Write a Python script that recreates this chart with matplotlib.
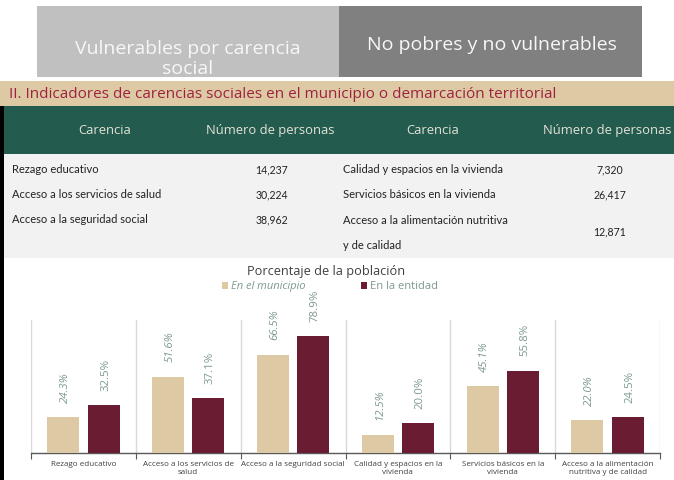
import matplotlib
matplotlib.use("Agg")
import matplotlib.pyplot as plt
from matplotlib.patches import Rectangle
import numpy as np

# ---------------- data ----------------
categories = ["Rezago educativo", "Acceso a los servicios de\nsalud",
              "Acceso a la seguridad social", "Calidad y espacios en la\nvivienda",
              "Servicios básicos en la\nvivienda", "Acceso a la alimentación\nnutritiva y de calidad"]
municipio = [24.3, 51.6, 66.5, 12.5, 45.1, 22.0]
entidad = [32.5, 37.1, 78.9, 20.0, 55.8, 24.5]

table_left = ["Rezago educativo", "Acceso a los servicios de salud", "Acceso a la seguridad social"]
table_left_n = [14237, 30224, 38962]
table_right = ["Calidad y espacios en la vivienda", "Servicios básicos en la vivienda",
               "Acceso a la alimentación nutritiva\ny de calidad"]
table_right_n = [7320, 26417, 12871]
header = ["Carencia", "Número de personas", "Carencia", "Número de personas"]
box_labels = ["Vulnerables por carencia\nsocial", "No pobres y no vulnerables"]
section_title = "II. Indicadores de carencias sociales en el municipio o demarcación territorial"
chart_title = "Porcentaje de la población"
legend_labels = ["En el municipio", "En la entidad"]

# ---------------- style ----------------
BEIGE = "#DDC9A3"
MAROON = "#691C32"
GREEN = "#235B4E"
RED = "#9F2241"
LBLC = "#7d9990"
OS = ["Open Sans", "DejaVu Sans"]
LT = ["Lato", "DejaVu Sans"]
plt.rcParams["font.family"] = OS

W, H = 674, 481
fig = plt.figure(figsize=(W / 100, H / 100), dpi=100)
bg = fig.add_axes([0, 0, 1, 1])
bg.set_xlim(0, W)
bg.set_ylim(H, 0)
bg.axis("off")

# top boxes
bg.add_patch(Rectangle((37, 7), 302, 71, color="#c0c0c0", lw=0))
bg.add_patch(Rectangle((339, 7), 303, 71, color="#808080", lw=0))
bg.text(188, 59, box_labels[0], ha="center", va="center", color="#f7f7f7",
        fontsize=14, linespacing=1.2, family=OS)
bg.add_patch(Rectangle((0, 78), W, 4, color="white", lw=0, zorder=3))
bg.text(492, 45, box_labels[1], ha="center", va="center", color="#f7f7f7",
        fontsize=14, family=OS)

# section band
bg.add_patch(Rectangle((0, 82), W, 25, color=BEIGE, lw=0, zorder=4))
bg.text(9, 95, section_title, ha="left", va="center", color=RED, fontsize=11,
        zorder=5, family=OS)

# green header
bg.add_patch(Rectangle((0, 107), W, 48, color=GREEN, lw=0))
for x, t in zip([105, 270, 433, 607], header):
    bg.text(x, 131, t, ha="center", va="center", color="#e4e2d6", fontsize=9.4, family=OS)

# table body
bg.add_patch(Rectangle((0, 155), W, 104, color="#f2f2f2", lw=0))
rows_y = [170, 195, 220]
TC = "#222222"
FS = 8.0
for y, lab, n in zip(rows_y, table_left, table_left_n):
    bg.text(12, y, lab, ha="left", va="center", color=TC, fontsize=FS, family=LT)
    bg.text(272, y, f"{n:,}", ha="center", va="center", color=TC, fontsize=7.6, family=LT)
for i, (lab, n) in enumerate(zip(table_right, table_right_n)):
    if "\n" in lab:
        bg.text(343, 233, lab, ha="left", va="center", color=TC, fontsize=FS,
                linespacing=2.6, family=LT)
        bg.text(610, 232, f"{n:,}", ha="center", va="center", color=TC, fontsize=7.6, family=LT)
    else:
        bg.text(343, rows_y[i], lab, ha="left", va="center", color=TC, fontsize=FS, family=LT)
        bg.text(610, rows_y[i], f"{n:,}", ha="center", va="center", color=TC, fontsize=7.6,
                family=LT)

# left black border
bg.add_patch(Rectangle((0, 107), 4, H - 107, color="black", lw=0, zorder=6))

# chart title & legend
bg.text(326, 272, chart_title, ha="center", va="center", color="#404040", fontsize=9.2)
bg.add_patch(Rectangle((222, 283), 6, 7, color=BEIGE, lw=0))
bg.text(231, 287, legend_labels[0], ha="left", va="center", color=LBLC, fontsize=8,
        style="italic")
bg.add_patch(Rectangle((361, 283), 6, 7, color=MAROON, lw=0))
bg.text(370, 287, legend_labels[1], ha="left", va="center", color=LBLC, fontsize=8)

# ---------------- chart ----------------
x0, x1, y0, y1 = 31, 660, 321, 454
ax = fig.add_axes([x0 / W, 1 - y1 / H, (x1 - x0) / W, (y1 - y0) / H])
ax.patch.set_alpha(0)
n = len(categories)
xs = np.arange(n)
bw = 0.305
off = 0.192
ax.bar(xs - off, municipio, bw, color=BEIGE, zorder=3)
ax.bar(xs + off, entidad, bw, color=MAROON, zorder=3)
ax.set_xlim(-0.5, n - 0.5)
ax.set_ylim(0, 90)

for x, v in zip(xs - off, municipio):
    ax.annotate(f"{v:.1f}%", (x, v), xytext=(1.5, 11), textcoords="offset points",
                rotation=90, ha="center", va="bottom", color=LBLC, fontsize=8.2,
                style="italic", annotation_clip=False)
for x, v in zip(xs + off, entidad):
    ax.annotate(f"{v:.1f}%", (x, v), xytext=(1.5, 11), textcoords="offset points",
                rotation=90, ha="center", va="bottom", color=LBLC, fontsize=8.2,
                annotation_clip=False)

for s in ["top", "right", "left"]:
    ax.spines[s].set_visible(False)
ax.spines["bottom"].set_color("#595959")
ax.spines["bottom"].set_linewidth(1)
ax.set_yticks([])
bounds = np.arange(n + 1) - 0.5
ax.set_xticks(bounds)
ax.set_xticklabels([])
ax.tick_params(axis="x", which="major", length=4, color="#595959", direction="out")
ax.set_xticks(xs, minor=True)
ax.set_xticklabels(categories, minor=True, fontsize=5.8, color="#404040",
                   linespacing=1.2, family=OS)
ax.tick_params(axis="x", which="minor", length=0, pad=5)
for b in bounds:
    ax.axvline(b, color="#d9d9d9", lw=1, zorder=1)

fig.savefig("out.png", dpi=100)
